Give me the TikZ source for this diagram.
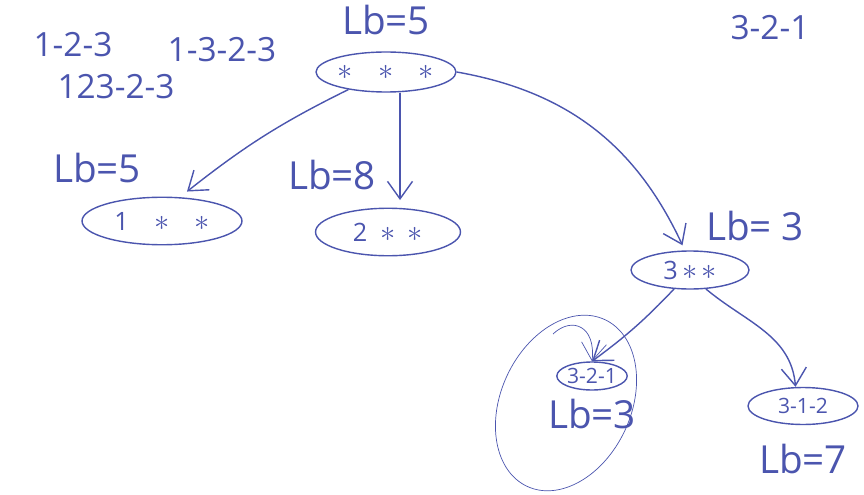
\documentclass[tikz,border=0pt]{standalone}
\usepackage{fontspec}
\setsansfont{Open Sans}
\usetikzlibrary{positioning, arrows.meta, shapes.geometric}
\definecolor{ink}{HTML}{4B55AE}
\newcommand{\st}{{\LARGE$\ast$}}

\begin{document}
\begin{tikzpicture}[
    x=0.02cm, y=0.02cm,
    font=\sffamily, color=ink,
    state/.style={ellipse, draw=ink, thick, inner sep=0pt, font=\sffamily\Large},
    bound/.style={font=\sffamily\fontsize{22}{25}\selectfont},
    note/.style={font=\sffamily\fontsize{19}{22}\selectfont},
    branch/.style={-{Straight Barb[length=3.5mm, width=5mm]}, thick, ink}
]
\useasboundingbox (0,0) rectangle (864,494);

% search tree
\node[state, minimum width=2.8cm, minimum height=0.8cm] (root) at (386,422) {\st\quad\st\quad\st};
\node[state, minimum width=3.2cm, minimum height=0.95cm] (one) at (162,273) {1\quad\st\quad\st};
\node[state, minimum width=2.9cm, minimum height=0.95cm] (two) at (388,262) {2\enspace\st\enspace\st};
\node[state, minimum width=2.36cm, minimum height=0.76cm] (three) at (690,224) {3\,\st\,\st};
\node[state, minimum width=1.4cm, minimum height=0.56cm, font=\sffamily\large] (leafa) at (592,118) {3-2-1};
\node[state, minimum width=2.2cm, minimum height=0.74cm, font=\sffamily\large] (leafb) at (803,88) {3-1-2};

% lower bounds
\node[bound, above=0.2cm of root] (lbroot) {Lb=5};
\node[bound] (lbone) at (97,326) {Lb=5};
\node[bound] (lbtwo) at (332,319) {Lb=8};
\node[bound] (lbthree) at (755,268) {Lb= 3};
\node[bound, below=0.05cm of leafa] (lbleafa) {Lb=3};
\node[bound, below=0.25cm of leafb] (lbleafb) {Lb=7};

% tours tried
\node[note] (trya) at (73,449) {1-2-3};
\node[note] (tryb) at (222,444) {1-3-2-3};
\node[note] (tryc) at (116,407) {123-2-3};
\node[note] (best) at (770,466) {3-2-1};

% branches
\draw[branch] (root.205) to[bend right=6] ([xshift=0.5cm, yshift=0.1cm]one.north);
\draw[branch, shorten >=0.15cm] ([xshift=0.28cm]root.south) -- ([xshift=0.28cm]root.south |- two.north);
\draw[branch] (root.east) to[out=-10, in=115] ([xshift=-0.15cm, yshift=0.1cm]three.north);
\draw[branch] (three.230) to[bend left=5] (leafa.north);
\draw[branch] (three.310) to[out=-40, in=95] ([xshift=-0.15cm]leafb.north);

% chosen leaf
\node[ellipse, draw=ink, thin, minimum width=3.68cm, minimum height=2.6cm, rotate=65] (pick) at (566,91) {};
\coordinate (hook) at (553,160);
\draw[branch, thin] (hook) .. controls (572,178) and (596,168) .. (leafa.north);
\end{tikzpicture}
\end{document}
